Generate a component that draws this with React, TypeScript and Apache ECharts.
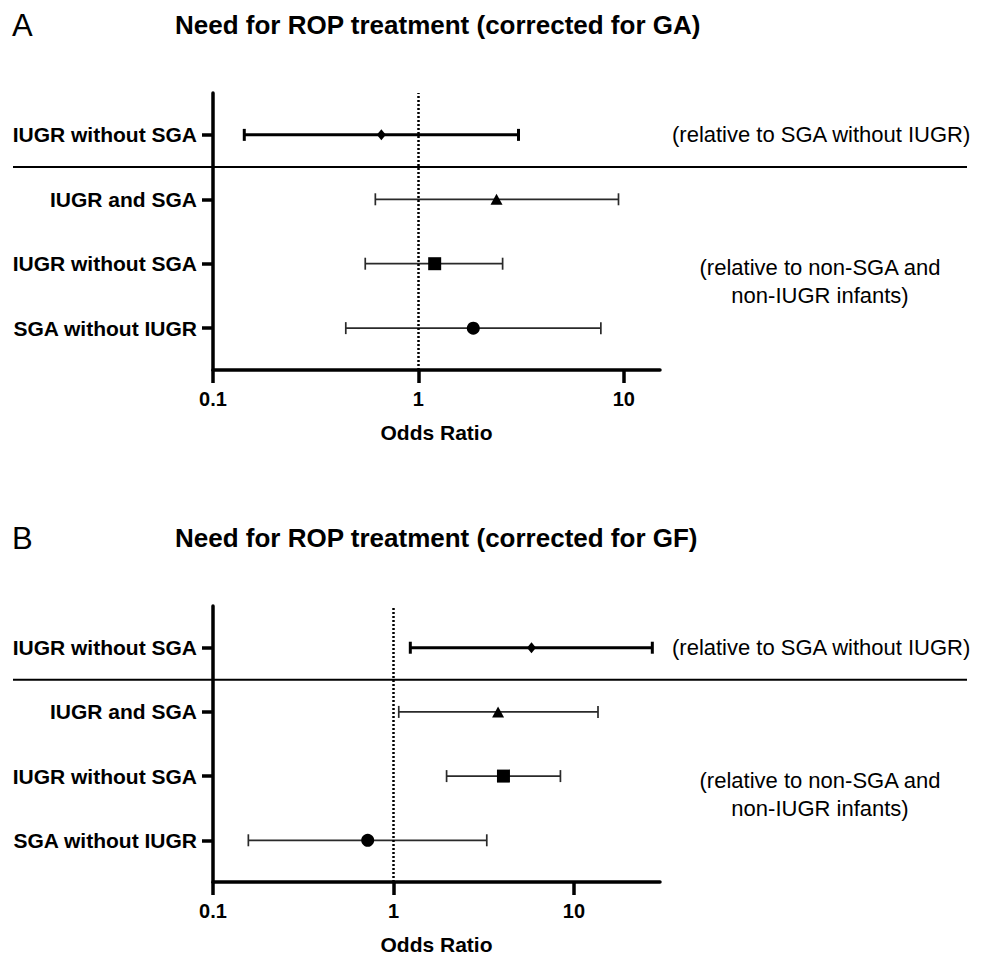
import React, { useEffect, useRef } from 'react';
import * as echarts from 'echarts';

// Rows, bottom (y = 1) to top (y = 4)
const rowPos = [1, 2, 3, 4];
const rowLabels = ['SGA without IUGR', 'IUGR without SGA', 'IUGR and SGA', 'IUGR without SGA'];
const rowSymbols = ['circle', 'rect', 'triangle', 'diamond'];
const rowSymbolSizes: any[] = [13, 13, [12, 11], [9, 11]];

// Panel A: corrected for GA
const gaOR = [1.85, 1.2, 2.4, 0.66];
const gaLower = [0.443, 0.551, 0.617, 0.142];
const gaUpper = [7.73, 2.57, 9.42, 3.07];

// Panel B: corrected for GF
const gfOR = [0.72, 4.07, 3.8, 5.82];
const gfLower = [0.157, 1.97, 1.07, 1.24];
const gfUpper = [3.29, 8.42, 13.6, 27.2];

const xTicks = [0.1, 1, 10];
const refLine = 1;

const FONT = "'Liberation Sans', Arial, Helvetica, sans-serif";

export default function App() {
  const ref = useRef<HTMLDivElement>(null);

  useEffect(() => {
    const chart = echarts.init(ref.current!, null, { renderer: 'svg' });

    const panels = [
      { letter: 'A', title: 'Need for ROP treatment (corrected for GA)', or: gaOR, lo: gaLower, hi: gaUpper, xMax: 15, top: 93, height: 277 },
      { letter: 'B', title: 'Need for ROP treatment (corrected for GF)', or: gfOR, lo: gfLower, hi: gfUpper, xMax: 30, top: 606, height: 276 },
    ];

    const grid = panels.map((p) => ({ left: 213, width: 447, top: p.top, height: p.height }));

    const xAxis = panels.map((p, i) => ({
      type: 'log',
      logBase: 10,
      gridIndex: i,
      min: 0.1,
      max: p.xMax,
      axisLine: { show: true, onZero: false, lineStyle: { color: '#000', width: 3.5 } },
      axisTick: { show: true, length: 13, customValues: xTicks, lineStyle: { color: '#000', width: 3.5 } },
      minorTick: { show: false },
      splitLine: { show: false },
      axisLabel: {
        customValues: xTicks,
        color: '#000',
        fontSize: 20,
        fontWeight: 'bold',
        fontFamily: FONT,
        margin: 19,
        formatter: (v: number) => String(+Number(v).toPrecision(3)),
      },
      name: 'Odds Ratio',
      nameLocation: 'middle',
      nameGap: 52,
      nameTextStyle: { color: '#000', fontSize: 21, fontWeight: 'bold', fontFamily: FONT },
    }));

    const yAxis = panels.map((p, i) => ({
      type: 'value',
      gridIndex: i,
      min: 0.35,
      max: 4.65,
      axisLine: { show: true, onZero: false, lineStyle: { color: '#000', width: 3.5 } },
      axisTick: { show: true, length: 11, customValues: rowPos, lineStyle: { color: '#000', width: 3.5 } },
      splitLine: { show: false },
      axisLabel: {
        customValues: rowPos,
        color: '#000',
        fontSize: 21,
        fontWeight: 'bold',
        fontFamily: FONT,
        margin: 16,
        formatter: (v: number) => rowLabels[rowPos.indexOf(Math.round(v))] ?? '',
      },
    }));

    const series: any[] = [];
    panels.forEach((p, i) => {
      series.push({
        type: 'custom',
        xAxisIndex: i,
        yAxisIndex: i,
        z: 2,
        silent: true,
        encode: { x: [0, 1], y: 2 },
        data: rowPos.map((y, k) => [p.lo[k], p.hi[k], y, k === 3 ? 1 : 0]),
        renderItem: (params: any, api: any) => {
          const y = api.value(2);
          const a = api.coord([api.value(0), y]);
          const b = api.coord([api.value(1), y]);
          const thick = api.value(3) === 1;
          const style = { stroke: thick ? '#000' : '#2a2a2a', lineWidth: thick ? 3 : 1.7 };
          const h = 6;
          return {
            type: 'group',
            children: [
              { type: 'line', shape: { x1: a[0], y1: a[1], x2: b[0], y2: b[1] }, style },
              { type: 'line', shape: { x1: a[0], y1: a[1] - h, x2: a[0], y2: a[1] + h }, style },
              { type: 'line', shape: { x1: b[0], y1: b[1] - h, x2: b[0], y2: b[1] + h }, style },
            ],
          };
        },
      });
      series.push({
        type: 'scatter',
        xAxisIndex: i,
        yAxisIndex: i,
        z: 5,
        itemStyle: { color: '#000', opacity: 1 },
        data: rowPos.map((y, k) => ({
          value: [p.or[k], y],
          symbol: rowSymbols[k],
          symbolSize: rowSymbolSizes[k],
        })),
        markLine: {
          silent: true,
          symbol: 'none',
          label: { show: false },
          lineStyle: { color: '#000', type: [2, 2], width: 2.5 },
          data: [{ xAxis: refLine }],
        },
      });
    });

    chart.setOption({
      animation: false,
      backgroundColor: '#fff',
      grid,
      xAxis,
      yAxis,
      series,
    });

    const pxY = (i: number, v: number) => chart.convertToPixel({ yAxisIndex: i } as any, v) as number;
    const graphic: any[] = [];
    panels.forEach((p, i) => {
      const titleY = p.top - 68;
      graphic.push({
        type: 'text', x: 12, y: titleY, silent: true,
        style: { text: p.letter, fill: '#000', fontSize: 31, fontFamily: FONT, align: 'left', verticalAlign: 'middle' },
      });
      graphic.push({
        type: 'text', x: 175, y: titleY, silent: true,
        style: { text: p.title, fill: '#000', fontSize: 26, fontWeight: 'bold', fontFamily: FONT, align: 'left', verticalAlign: 'middle' },
      });
      graphic.push({
        type: 'line', silent: true,
        shape: { x1: 13, y1: pxY(i, 3.5), x2: 967, y2: pxY(i, 3.5) },
        style: { stroke: '#000', lineWidth: 2 },
      });
      graphic.push({
        type: 'text', x: 672, y: pxY(i, 4), silent: true,
        style: { text: '(relative to SGA without IUGR)', fill: '#000', fontSize: 22, fontFamily: FONT, align: 'left', verticalAlign: 'middle' },
      });
      graphic.push({
        type: 'text', x: 820, y: pxY(i, 1.72), silent: true,
        style: {
          text: '(relative to non-SGA and\nnon-IUGR infants)', fill: '#000', fontSize: 22, lineHeight: 28,
          fontFamily: FONT, align: 'center', verticalAlign: 'middle',
        },
      });
    });
    chart.setOption({ graphic });

    return () => chart.dispose();
  }, []);

  return <div ref={ref} style={{ position: 'absolute', left: 0, top: 0, width: 982, height: 958 }} />;
}
